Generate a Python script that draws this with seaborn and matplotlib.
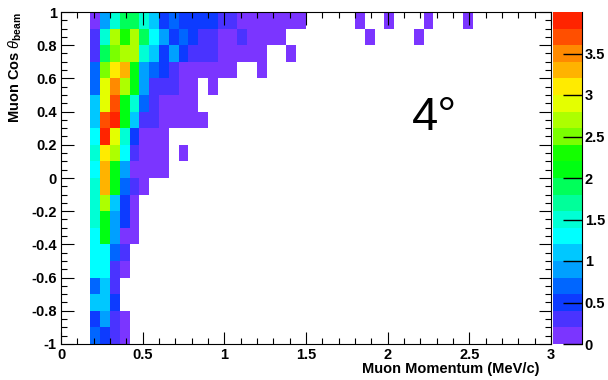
import numpy as np
import pandas as pd
import matplotlib
matplotlib.use("Agg")
import matplotlib.pyplot as plt
from matplotlib.colors import ListedColormap
import seaborn as sns

# binning: 50 momentum bins 0..3 MeV/c, 20 cos bins from 1 down to -1
p_edges = np.linspace(0, 3, 51)
cos_edges = np.linspace(1, -1, 21)
first_col = 3  # first filled momentum bin starts at 0.18

# bin contents per cos row (top row first), starting at first_col
rows = [
    [0.1, 0.9, 1.5, 1.9, 1.9, 1.5, 1.1, 0.5, 0.7, 0.5, 0.5, 0.5, 0.5, 0.3, 0.3, 0.1, 0.1, 0.1, 0.1, 0.1, 0.1, 0.1],
    [0.3, 1.5, 2.7, 2.3, 2.7, 1.9, 1.3, 0.9, 0.5, 0.7, 0.5, 0.3, 0.3, 0.1, 0.1, 0.3, 0.1, 0.1, 0.1, 0.1],
    [0.3, 1.9, 2.5, 2.7, 2.7, 1.5, 1.1, 0.5, 0.9, 0.5, 0.3, 0.3, 0.3, 0.1, 0.1, 0.1, 0.1, 0.1],
    [0.7, 2.5, 3.1, 3.3, 2.1, 0.9, 0.7, 0.5, 0.3, 0.1, 0.1, 0.1, 0.1, 0.1, 0.1],
    [0.7, 2.9, 3.5, 2.7, 2.1, 0.9, 0.3, 0.3, 0.3, 0.1, 0.1],
    [1.1, 2.9, 3.7, 2.1, 1.5, 0.7, 0.3, 0.1, 0.1, 0.1, 0.1],
    [1.1, 3.7, 3.9, 2.1, 1.1, 0.3, 0.3, 0.1, 0.1, 0.1, 0.1, 0.1],
    [1.3, 3.9, 2.9, 1.5, 0.5, 0.1, 0.1, 0.1],
    [1.5, 3.1, 2.7, 1.3, 0.3, 0.1, 0.1, 0.1],
    [1.3, 3.3, 2.1, 0.9, 0.1, 0.1, 0.1, 0.1],
    [1.5, 3.3, 2.1, 0.7, 0.3, 0.1],
    [1.5, 2.7, 1.1, 0.5, 0.1],
    [1.5, 2.1, 0.9, 0.5, 0.1],
    [1.3, 2.1, 0.9, 0.1, 0.1],
    [1.3, 1.3, 0.7, 0.3],
    [1.3, 1.3, 0.3, 0.1],
    [0.7, 1.1, 0.3],
    [1.1, 1.1, 0.5],
    [0.5, 0.9, 0.3, 0.1],
    [0.7, 0.5, 0.3, 0.1],
]

# isolated bins: momentum centre, cos centre, content
extra_p = [1.83, 2.01, 2.25, 2.49, 1.89, 2.19, 1.41, 1.23, 0.93, 0.75]
extra_cos = [0.95, 0.95, 0.95, 0.95, 0.85, 0.85, 0.75, 0.65, 0.55, 0.15]
extra_val = [0.1, 0.1, 0.1, 0.1, 0.1, 0.1, 0.1, 0.1, 0.1, 0.1]

# ROOT-like 20 level palette (violet -> red)
palette = ["#7b35ff", "#4a33ff", "#0d3bff", "#0066ff", "#00a0ff",
           "#00c8ff", "#00ffff", "#00ffd5", "#00ff9a", "#00ff5a",
           "#00ff12", "#14ff00", "#7aff00", "#adff00", "#e4ff00",
           "#ffeb00", "#ffb300", "#ff8a00", "#ff4f00", "#ff2400"]

grid = np.full((20, 50), np.nan)
for r, vals in enumerate(rows):
    grid[r, first_col:first_col + len(vals)] = vals
for p, c, v in zip(extra_p, extra_cos, extra_val):
    grid[int((1 - c) / 0.1), int(p / 0.06)] = v

df = pd.DataFrame(grid, index=np.round(cos_edges[:-1], 2), columns=np.round(p_edges[:-1], 2))

plt.rcParams['font.family'] = ['Liberation Sans', 'DejaVu Sans']
plt.rcParams['mathtext.fontset'] = 'custom'
plt.rcParams['mathtext.rm'] = 'Liberation Sans'
plt.rcParams['mathtext.it'] = 'Liberation Sans:italic'
plt.rcParams['mathtext.bf'] = 'Liberation Sans:bold'

fig = plt.figure(figsize=(6.08, 3.8), dpi=100)
ax = fig.add_axes([61 / 608, 36 / 380, 490 / 608, 332 / 380])
cax = fig.add_axes([553 / 608, 36 / 380, 29 / 608, 332 / 380])

sns.heatmap(df, ax=ax, cbar_ax=cax, cmap=ListedColormap(palette), vmin=0, vmax=4,
            xticklabels=False, yticklabels=False)

# axes in heatmap cell units
xt = [0, 0.5, 1, 1.5, 2, 2.5, 3]
yt = [1, 0.8, 0.6, 0.4, 0.2, 0, -0.2, -0.4, -0.6, -0.8, -1]
ax.set_xticks([v / 0.06 for v in xt])
ax.set_xticklabels(['0', '0.5', '1', '1.5', '2', '2.5', '3'], rotation=0)
ax.set_xticks([v / 0.06 for v in np.arange(0, 3.01, 0.1)], minor=True)
ax.set_yticks([(1 - v) / 0.1 for v in yt])
ax.set_yticklabels(['1', '0.8', '0.6', '0.4', '0.2', '0', '-0.2', '-0.4', '-0.6', '-0.8', '-1'], rotation=0)
ax.set_yticks([(1 - v) / 0.1 for v in np.arange(-1, 1.01, 0.05)], minor=True)
ax.tick_params(which='both', direction='in', top=True, right=True, color='black', width=0.8)
ax.tick_params(which='major', length=9, labelsize=10.5, pad=3)
ax.tick_params(which='minor', length=4.5)
for lab in ax.get_xticklabels() + ax.get_yticklabels():
    lab.set_fontweight('bold')
for s in ax.spines.values():
    s.set_visible(True)
    s.set_color('black')
    s.set_linewidth(0.8)

ax.set_xlabel('Muon Momentum (MeV/c)', loc='right', fontsize=10.5, fontweight='bold')
ax.xaxis.set_label_coords(0.977, -0.055)
ax.set_ylabel(r'Muon Cos $\theta_{\mathbf{beam}}$', loc='top', fontsize=10.5, fontweight='bold', labelpad=5)

ax.text(2.15 / 0.06, (1 - 0.29) / 0.1, '4°', fontsize=34, va='baseline', ha='left')

cbar = ax.collections[0].colorbar
cbar.set_ticks([0, 0.5, 1, 1.5, 2, 2.5, 3, 3.5])
cbar.set_ticklabels(['0', '0.5', '1', '1.5', '2', '2.5', '3', '3.5'])
cax.tick_params(direction='in', length=14, width=1, color='black', labelsize=10.5, pad=2)
for lab in cax.get_yticklabels():
    lab.set_fontweight('bold')
cbar.outline.set_visible(False)
cax.spines['right'].set_visible(True)
cax.spines['right'].set_color('black')

fig.savefig('out.png', dpi=100)
